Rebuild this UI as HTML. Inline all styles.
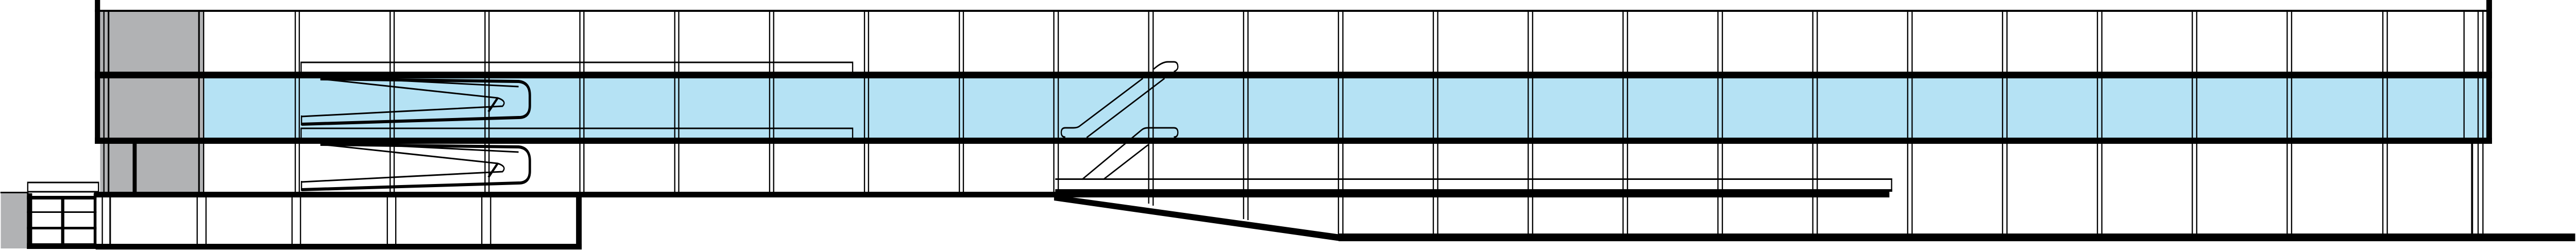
<!DOCTYPE html>
<html><head><meta charset="utf-8"><style>
html,body{margin:0;padding:0;background:#fff;width:100%;height:100%;overflow:hidden;}
svg{display:block;width:100vw;height:100vh;}
</style></head><body>
<svg viewBox="0 0 6408 485" preserveAspectRatio="none" xmlns="http://www.w3.org/2000/svg">
<rect x="508" y="152" width="5680" height="116" fill="#b5e2f4"/>
<rect x="249" y="23" width="259" height="350" fill="#b1b2b4"/>
<rect x="2" y="374" width="66" height="108" fill="#b1b2b4"/>

<g fill="#000">
<rect x="236" y="19" width="5955" height="4"/>
<rect x="236" y="139" width="5963" height="13"/>
<rect x="236" y="267" width="5963" height="12"/>
<rect x="234" y="372" width="4466" height="11"/>
<rect x="1" y="372" width="70" height="3"/>
<rect x="236" y="0" width="13" height="279"/>
<rect x="6185" y="0" width="14" height="279"/>
<rect x="257" y="23" width="3" height="350"/>
<rect x="268" y="23" width="4" height="350"/>
<rect x="493" y="23" width="4" height="350"/>
<rect x="505" y="23" width="3" height="350"/>
<rect x="330" y="279" width="10" height="94"/>
<rect x="238" y="473" width="1209" height="11"/>
<rect x="1433" y="383" width="14" height="101"/>
<rect x="253" y="383" width="3" height="90"/><rect x="272" y="383" width="4" height="90"/>
<rect x="489" y="383" width="3" height="90"/><rect x="511" y="383" width="3" height="90"/>
<rect x="725" y="383" width="3" height="90"/><rect x="746" y="383" width="3" height="90"/>
<rect x="962" y="383" width="3" height="90"/><rect x="983" y="383" width="3" height="90"/>
<rect x="1197" y="383" width="3" height="90"/><rect x="1219" y="383" width="3" height="90"/>
<rect x="67" y="380" width="173" height="7"/>
<rect x="67" y="410" width="173" height="3"/>
<rect x="67" y="440" width="173" height="5"/>
<rect x="67" y="472" width="173" height="11"/>
<rect x="67" y="375" width="13" height="108"/>
<rect x="152" y="380" width="8" height="100"/>
<rect x="233" y="375" width="7" height="105"/>
<rect x="3330" y="453" width="3076" height="15"/>
<rect x="2625" y="346" width="2082" height="3"/>
<rect x="2625" y="367" width="2082" height="5"/>
<rect x="4704" y="346" width="3" height="26"/>
<rect x="6128" y="23" width="3" height="245"/>
<rect x="6163" y="23" width="3" height="350"/>
<rect x="6175" y="23" width="3" height="430"/>
<rect x="6147" y="279" width="5" height="174"/>
<rect x="6163" y="373" width="3" height="80"/>
</g>
<polygon points="2622,378 3335,455 3335,468 2622,389" fill="#000"/>

<g fill="#000">
<rect x="733" y="23" width="3" height="350"/><rect x="743" y="23" width="3" height="350"/>
<rect x="969" y="23" width="3" height="350"/><rect x="979" y="23" width="3" height="350"/>
<rect x="1205" y="23" width="3" height="350"/><rect x="1215" y="23" width="3" height="350"/>
<rect x="1441" y="23" width="3" height="350"/><rect x="1451" y="23" width="3" height="350"/>
<rect x="1677" y="23" width="3" height="350"/><rect x="1687" y="23" width="3" height="350"/>
<rect x="1913" y="23" width="3" height="350"/><rect x="1923" y="23" width="3" height="350"/>
<rect x="2149" y="23" width="3" height="350"/><rect x="2159" y="23" width="3" height="350"/>
<rect x="2385" y="23" width="3" height="350"/><rect x="2395" y="23" width="3" height="350"/>
<rect x="2620" y="23" width="3" height="360"/><rect x="2631" y="23" width="3" height="360"/>
<rect x="2856" y="23" width="3" height="372"/><rect x="2867" y="23" width="3" height="376"/>
<rect x="3092" y="23" width="3" height="402"/><rect x="3103" y="23" width="3" height="404"/>
<rect x="3328" y="23" width="3" height="432"/><rect x="3339" y="23" width="3" height="432"/>
<rect x="3564" y="23" width="3" height="432"/><rect x="3575" y="23" width="3" height="432"/>
<rect x="3800" y="23" width="3" height="432"/><rect x="3811" y="23" width="3" height="432"/>
<rect x="4036" y="23" width="3" height="432"/><rect x="4047" y="23" width="3" height="432"/>
<rect x="4272" y="23" width="3" height="432"/><rect x="4283" y="23" width="3" height="432"/>
<rect x="4508" y="23" width="3" height="432"/><rect x="4519" y="23" width="3" height="432"/>
<rect x="4744" y="23" width="3" height="432"/><rect x="4755" y="23" width="3" height="432"/>
<rect x="4980" y="23" width="3" height="432"/><rect x="4991" y="23" width="3" height="432"/>
<rect x="5216" y="23" width="3" height="432"/><rect x="5227" y="23" width="3" height="432"/>
<rect x="5452" y="23" width="3" height="432"/><rect x="5463" y="23" width="3" height="432"/>
<rect x="5688" y="23" width="3" height="432"/><rect x="5699" y="23" width="3" height="432"/>
<rect x="5926" y="23" width="3" height="432"/><rect x="5937" y="23" width="3" height="432"/>
</g>

<g fill="none" stroke="#000" stroke-width="3">
<path d="M749 140 V121 H2121 V140"/>
<path d="M749 268 V249 H2121 V268"/>
<g id="ramp">
<path d="M797 153 L1290 158 Q1318 160 1318 185 L1318 205 Q1318 228 1290 228 L750 241" stroke-width="6"/>
<path d="M960 155 L1290 168" stroke-width="3"/>
<path d="M797 153 L1238 190 Q1262 196 1250 206 L750 226" stroke-width="3"/>
<path d="M1238 190 L1215 217" stroke-width="5"/>
<path d="M750 224 V243" stroke-width="3"/>
</g>
<use href="#ramp" y="127"/>
<path d="M2843 152 L2685 245 Q2680 248 2670 248 H2650 Q2640 248 2640 257 Q2640 266 2650 266"/>
<path d="M2703 267 L2897 152"/>
<path d="M2870 134 Q2890 120 2905 120 H2920 Q2930 120 2930 130 Q2930 136 2920 139"/>
<path d="M2692 348 L2840 252 Q2846 248 2855 248 H2920 Q2930 248 2930 257 Q2930 266 2920 266"/>
<path d="M2745 348 L2856 281"/>
</g>
<rect x="69" y="354" width="176" height="18" fill="none" stroke="#000" stroke-width="3"/>
</svg>
</body></html>
